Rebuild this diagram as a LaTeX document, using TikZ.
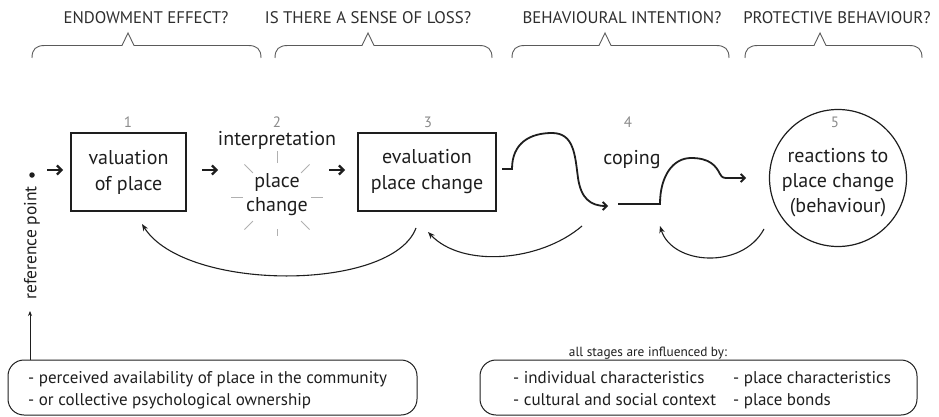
\documentclass[tikz,border=0pt]{standalone}
\usepackage{fontspec}
\setmainfont{PT Sans}
\usetikzlibrary{arrows.meta,calc}
\definecolor{hdr}{HTML}{2E2E2E}
\definecolor{brc}{HTML}{5A5A5A}
\definecolor{num}{HTML}{8A8A8A}
\definecolor{ray}{HTML}{B0B0B0}
\definecolor{ink}{HTML}{1E1E1E}
\begin{document}
\begin{tikzpicture}[x=1pt,y=-1pt,
  hdrtext/.style={text=hdr,font=\fontsize{16.8}{19}\selectfont,inner sep=0pt},
  bracepath/.style={draw=brc,line width=0.9pt},
  numtext/.style={text=num,font=\fontsize{15}{17}\selectfont,inner sep=0pt},
  lbl/.style={font=\fontsize{20}{26}\selectfont,align=center,inner sep=0pt,text=ink},
  stagebox/.style={draw=ink,line width=1.2pt,minimum width=#1,minimum height=78pt,inner sep=0pt},
  thk/.style={draw=ink,line width=2pt,-{Straight Barb[length=4.5pt,width=9pt,line width=2.2pt]}},
  wave/.style={draw=ink,line width=1.8pt,-{Straight Barb[length=4pt,width=8pt]}},
  fb/.style={draw=ink,line width=1.1pt,-{Stealth[length=7pt,width=5.5pt]}},
  raystyle/.style={draw=ray,line width=0.8pt},
  roundbox/.style={draw=ink,line width=1pt,rounded corners=16pt,inner sep=0pt},
  bottext/.style={font=\fontsize{17}{20}\selectfont,anchor=base west,inner sep=0pt,text=ink}
]
\useasboundingbox (0,0) rectangle (939,417);

% headers
\node[hdrtext] (h1) at (146,18) {ENDOWMENT EFFECT?};
\node[hdrtext] (h2) at (368,18) {IS THERE A SENSE OF LOSS?};
\node[hdrtext] (h3) at (622,18) {BEHAVIOURAL INTENTION?};
\node[hdrtext] (h4) at (837,18) {PROTECTIVE BEHAVIOUR?};

% braces
\foreach \a/\p/\b in {32/128/261, 275/368/492, 512/605/729, 745/820/922}{
  \draw[bracepath] (\a,58) .. controls (\a,49) and (\a+4,45.5) .. (\a+13,45.5)
    -- (\p-6,45.5) -- (\p,33) -- (\p+6,45.5) -- (\b-13,45.5)
    .. controls (\b-4,45.5) and (\b,49) .. (\b,58);
}

% numbers
\node[numtext] (n1) at (128,122) {1};
\node[numtext] (n2) at (277,122) {2};
\node[numtext] (n3) at (428,122) {3};
\node[numtext] (n4) at (628,122) {4};
\node[numtext] (n5) at (835,122) {5};

% stage boxes
\node[stagebox=115pt] (box1) at (128.5,172) {};
\node[lbl] (t1) at (box1) {valuation\\of place};
\node[stagebox=138pt] (box3) at (427,172) {};
\node[lbl] (t3) at (box3) {evaluation\\place change};
\node[draw=ink,line width=1.2pt,circle,minimum size=137pt,inner sep=0pt] (c5) at (838,178) {};
\node[lbl,font=\fontsize{20}{25}\selectfont] (t5) at (838,183) {reactions to\\place change\\(behaviour)};

% stage 2
\node[lbl] (interp) at (277,140) {interpretation};
\node[lbl,font=\fontsize{20}{24}\selectfont] (pc) at (277,195) {place\\change};
\coordinate (rc) at (277,197);
\foreach \ang in {0,45,135,180,225,270,315}{
  \draw[raystyle] ($(rc)+(\ang:34)$) -- ($(rc)+(\ang:46)$);
}
\draw[raystyle] ($(rc)+(90:32)$) -- ($(rc)+(90:39)$);

% stage 4
\node[lbl] (cop) at (632,160) {coping};

% reference point
\node[circle,fill=ink,inner sep=0pt,minimum size=5.5pt] (dot) at (32,175) {};
\node[lbl,rotate=90,font=\fontsize{17.5}{20}\selectfont] (rp) at (32,243) {reference point};

% short thick arrows
\coordinate (a1s) at (47,170); \coordinate (a1e) at (63,170);
\coordinate (a2s) at (202,170); \coordinate (a2e) at (218,170);
\coordinate (a3s) at (329,170); \coordinate (a3e) at (345,170);
\draw[thk] (a1s) -- (a1e);
\draw[thk] (a2s) -- (a2e);
\draw[thk] (a3s) -- (a3e);

% wavy arrows
\coordinate (w1s) at (502,169);
\coordinate (w1e) at (608,206);
\draw[wave] (w1s) -- (512,169) .. controls (512,143) and (530,133) .. (552,133)
  .. controls (574,133) and (575,155) .. (578,178)
  .. controls (581,198) and (590,206) .. (w1e);
\coordinate (w2s) at (618,204);
\coordinate (w2e) at (746,178);
\draw[wave] (w2s) -- (660,204) .. controls (660,176) and (673,158) .. (691,158)
  .. controls (710,158) and (716,166) .. (720,174)
  .. controls (722,178) and (724,178) .. (728,178) -- (w2e);

% feedback arrows
\coordinate (f1s) at (416,228); \coordinate (f1e) at (142,224);
\draw[fb] (f1s) .. controls (392,292) and (185,292) .. (f1e);
\coordinate (f2s) at (582,226); \coordinate (f2e) at (428,232);
\draw[fb] (f2s) .. controls (540,262) and (462,268) .. (f2e);
\coordinate (f3s) at (764,229); \coordinate (f3e) at (660,226);
\draw[fb] (f3s) .. controls (742,270) and (672,265) .. (f3e);

% bottom left box
\node[roundbox,minimum width=409pt,minimum height=55pt] (lbox) at (212.5,387.5) {};
\node[bottext] (l1) at (28,383) {- perceived availability of place in the community};
\node[bottext] (l2) at (28,405) {- or collective psychological ownership};
\coordinate (rpa) at (30,360);
\coordinate (rpb) at (30,311);
\draw[draw=ink,line width=1pt,-{Stealth[length=5pt,width=4pt]}] (rpa) -- (rpb);

% bottom right box
\node[font=\fontsize{13.3}{15}\selectfont,text=ink,inner sep=0pt] (allst) at (648,353) {all stages are influenced by:};
\node[roundbox,minimum width=437pt,minimum height=55pt] (rbox) at (698.5,387.5) {};
\node[bottext] (r1) at (513,383) {- individual characteristics};
\node[bottext] (r2) at (733,383) {- place characteristics};
\node[bottext] (r3) at (513,405) {- cultural and social context};
\node[bottext] (r4) at (733,405) {- place bonds};
\end{tikzpicture}
\end{document}
